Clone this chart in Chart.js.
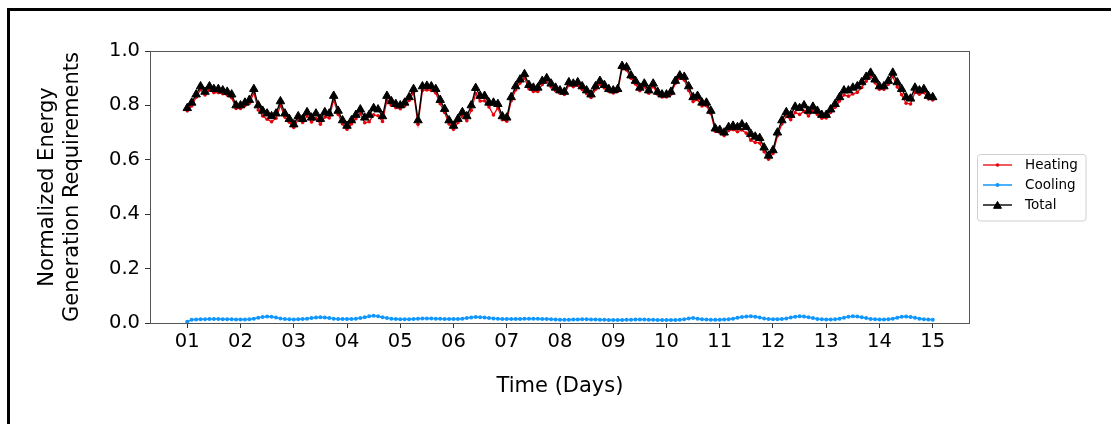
<!DOCTYPE html>
<html>
<head>
<meta charset="utf-8">
<script src="https://cdn.jsdelivr.net/npm/chart.js@4.4.1/dist/chart.umd.min.js"></script>
<style>
  html, body { margin: 0; padding: 0; background: #fff; overflow: hidden; }
  #wrap { position: relative; width: 1111px; height: 424px; }
  #frame { position: absolute; left: 7px; top: 8px; width: 1200px; height: 500px;
           border-left: 3px solid #000; border-top: 3px solid #000; pointer-events: none; }
</style>
</head>
<body>
<div id="wrap">
  <canvas id="energyChart" width="1111" height="424"></canvas>
  <div id="frame"></div>
</div>
<script>

// tick labels of the time axis (day of month)
var dayTicks = [1, 2, 3, 4, 5, 6, 7, 8, 9, 10, 11, 12, 13, 14, 15];
var dayLabels = ["01", "02", "03", "04", "05", "06", "07", "08", "09", "10", "11", "12", "13", "14", "15"];

// readings every 2 hours, day 01 00:00 to day 15 00:00
var totalValues = [
	0.79, 0.81, 0.84, 0.87, 0.85, 0.87, 0.86, 0.86, 0.855, 0.85, 0.84, 0.80,
	0.80, 0.81, 0.82, 0.86, 0.80, 0.78, 0.77, 0.76, 0.77, 0.815, 0.77, 0.75,
	0.73, 0.76, 0.75, 0.775, 0.755, 0.77, 0.75, 0.775, 0.77, 0.835, 0.78, 0.745,
	0.725, 0.745, 0.765, 0.785, 0.755, 0.765, 0.79, 0.785, 0.76, 0.835, 0.815, 0.805,
	0.80, 0.81, 0.83, 0.86, 0.745, 0.87, 0.872, 0.87, 0.86, 0.82, 0.787, 0.745,
	0.725, 0.75, 0.775, 0.76, 0.80, 0.864, 0.835, 0.835, 0.81, 0.81, 0.805, 0.76,
	0.755, 0.83, 0.87, 0.895, 0.915, 0.875, 0.865, 0.865, 0.89, 0.90, 0.88, 0.865,
	0.855, 0.85, 0.885, 0.88, 0.885, 0.87, 0.855, 0.84, 0.87, 0.89, 0.875, 0.86,
	0.855, 0.86, 0.945, 0.94, 0.91, 0.89, 0.865, 0.88, 0.855, 0.88, 0.85, 0.84,
	0.84, 0.85, 0.89, 0.91, 0.905, 0.87, 0.83, 0.835, 0.81, 0.81, 0.78, 0.715,
	0.71, 0.70, 0.72, 0.725, 0.72, 0.73, 0.72, 0.695, 0.685, 0.68, 0.645, 0.615,
	0.635, 0.70, 0.745, 0.775, 0.765, 0.795, 0.79, 0.80, 0.78, 0.795, 0.78, 0.765,
	0.765, 0.785, 0.805, 0.83, 0.855, 0.855, 0.865, 0.87, 0.885, 0.905, 0.92, 0.895,
	0.87, 0.87, 0.89, 0.92, 0.885, 0.86, 0.83, 0.825, 0.865, 0.855, 0.86, 0.835,
	0.83
];

var heatingValues = [
	0.78, 0.798, 0.83, 0.858, 0.838, 0.857, 0.847, 0.847, 0.843, 0.838, 0.828, 0.789,
	0.789, 0.799, 0.808, 0.846, 0.783, 0.761, 0.749, 0.74, 0.753, 0.8, 0.757, 0.738,
	0.719, 0.748, 0.737, 0.761, 0.739, 0.752, 0.731, 0.757, 0.754, 0.821, 0.767, 0.732,
	0.712, 0.732, 0.751, 0.769, 0.736, 0.74, 0.765, 0.762, 0.741, 0.819, 0.801, 0.792,
	0.788, 0.798, 0.818, 0.847, 0.731, 0.855, 0.857, 0.855, 0.846, 0.806, 0.774, 0.732,
	0.712, 0.737, 0.761, 0.744, 0.782, 0.844, 0.816, 0.817, 0.794, 0.765, 0.791, 0.747,
	0.742, 0.817, 0.857, 0.882, 0.901, 0.861, 0.851, 0.851, 0.877, 0.887, 0.868, 0.854,
	0.845, 0.84, 0.875, 0.869, 0.874, 0.858, 0.843, 0.829, 0.859, 0.878, 0.864, 0.851,
	0.846, 0.851, 0.936, 0.93, 0.9, 0.879, 0.854, 0.869, 0.845, 0.87, 0.841, 0.831,
	0.831, 0.841, 0.881, 0.9, 0.893, 0.855, 0.814, 0.821, 0.798, 0.799, 0.77, 0.705,
	0.7, 0.689, 0.708, 0.711, 0.703, 0.71, 0.698, 0.672, 0.664, 0.662, 0.63, 0.602,
	0.623, 0.688, 0.732, 0.76, 0.747, 0.774, 0.767, 0.778, 0.761, 0.779, 0.767, 0.753,
	0.754, 0.774, 0.793, 0.816, 0.838, 0.834, 0.842, 0.848, 0.866, 0.889, 0.907, 0.883,
	0.859, 0.859, 0.878, 0.906, 0.868, 0.839, 0.808, 0.805, 0.848, 0.841, 0.848, 0.824,
	0.82
];

var coolingValues = [
	0.005, 0.012, 0.013, 0.014, 0.014, 0.015, 0.015, 0.015, 0.014, 0.014, 0.014, 0.013,
	0.013, 0.013, 0.014, 0.016, 0.019, 0.022, 0.024, 0.023, 0.020, 0.017, 0.015, 0.014,
	0.013, 0.014, 0.015, 0.016, 0.018, 0.020, 0.021, 0.020, 0.018, 0.016, 0.015, 0.015,
	0.015, 0.015, 0.016, 0.018, 0.021, 0.025, 0.027, 0.025, 0.021, 0.018, 0.016, 0.015,
	0.014, 0.014, 0.014, 0.015, 0.016, 0.017, 0.017, 0.017, 0.016, 0.016, 0.015, 0.015,
	0.015, 0.015, 0.016, 0.018, 0.020, 0.022, 0.021, 0.020, 0.018, 0.017, 0.016, 0.015,
	0.015, 0.015, 0.015, 0.015, 0.016, 0.016, 0.016, 0.016, 0.015, 0.015, 0.014, 0.013,
	0.012, 0.012, 0.012, 0.013, 0.013, 0.014, 0.014, 0.013, 0.013, 0.012, 0.012, 0.011,
	0.011, 0.011, 0.011, 0.012, 0.012, 0.013, 0.013, 0.013, 0.012, 0.012, 0.011, 0.011,
	0.011, 0.011, 0.011, 0.012, 0.014, 0.017, 0.018, 0.016, 0.014, 0.013, 0.012, 0.012,
	0.012, 0.013, 0.014, 0.016, 0.019, 0.022, 0.024, 0.025, 0.023, 0.020, 0.017, 0.015,
	0.014, 0.014, 0.015, 0.017, 0.020, 0.023, 0.025, 0.024, 0.021, 0.018, 0.015, 0.014,
	0.013, 0.013, 0.014, 0.016, 0.019, 0.023, 0.025, 0.024, 0.021, 0.018, 0.015, 0.014,
	0.013, 0.013, 0.014, 0.016, 0.019, 0.023, 0.024, 0.022, 0.019, 0.016, 0.014, 0.013,
	0.012
];

var stepsPerDay = 12;

function toPoints(values){
	return values.map(function(v, i){ return { x: dayTicks[0] + i / stepsPerDay, y: v }; });
}

Chart.defaults.font.family = "'DejaVu Sans', sans-serif";
Chart.defaults.color = '#000';

// box round the plot area, like the axes frame
var frameBox = {
	id: 'frameBox',
	afterDatasetsDraw: function(chart){
		var a = chart.chartArea, ctx = chart.ctx;
		ctx.save();
		ctx.strokeStyle = '#555';
		ctx.lineWidth = 1;
		ctx.strokeRect(Math.round(a.left) + 0.5, Math.round(a.top) + 0.5,
			Math.round(a.right - a.left) - 1, Math.round(a.bottom - a.top));
		ctx.restore();
	}
};

// legend at the right of the plot, with a light box
var sideLegend = {
	id: 'sideLegend',
	afterDraw: function(chart){
		var ctx = chart.ctx;
		var order = [0, 1, 2];
		var bx = 977.5, by = 154.5, bw = 108.5, bh = 66.5;
		ctx.save();
		ctx.beginPath();
		ctx.roundRect(bx, by, bw, bh, 3);
		ctx.fillStyle = 'rgba(255,255,255,0.8)';
		ctx.fill();
		ctx.strokeStyle = '#d0d0d0';
		ctx.lineWidth = 1;
		ctx.stroke();
		ctx.font = "13.5px 'DejaVu Sans'";
		ctx.textBaseline = 'middle';
		order.forEach(function(idx, row){
			var ds = chart.data.datasets[idx];
			var y = 165 + row * 20;
			ctx.strokeStyle = ds.borderColor;
			ctx.lineWidth = ds.borderWidth;
			ctx.beginPath();
			ctx.moveTo(983, y);
			ctx.lineTo(1012, y);
			ctx.stroke();
			var r = idx === 2 ? 4.6 : ds.pointRadius;
			ctx.fillStyle = ds.pointBackgroundColor;
			ctx.strokeStyle = ds.pointBorderColor;
			ctx.lineWidth = ds.pointBorderWidth;
			Chart.helpers.drawPoint(ctx, {
				pointStyle: ds.pointStyle,
				radius: r,
				borderWidth: ds.pointBorderWidth,
				rotation: 0
			}, 997.5, y + (idx === 2 ? 1 : 0));
			ctx.fillStyle = '#000';
			ctx.fillText(ds.label, 1025, y);
		});
		ctx.restore();
	}
};

var chart_settings = {
	type: 'line',
	data: {
		datasets: [{
			label: 'Heating',
			data: toPoints(heatingValues),
			borderColor: '#e8000b',
			borderWidth: 1.3,
			pointStyle: 'circle',
			pointRadius: 1.8,
			pointBorderWidth: 0,
			pointBorderColor: '#e8000b',
			pointBackgroundColor: '#e8000b',
			order: 3
		}, {
			label: 'Cooling',
			data: toPoints(coolingValues),
			borderColor: '#0f97ff',
			borderWidth: 1.5,
			pointStyle: 'circle',
			pointRadius: 2,
			pointBorderWidth: 0,
			pointBorderColor: '#0f97ff',
			pointBackgroundColor: '#0f97ff',
			order: 2
		}, {
			label: 'Total',
			data: toPoints(totalValues),
			borderColor: '#000',
			borderWidth: 1.4,
			pointStyle: 'triangle',
			pointRadius: 4.9,
			pointBorderWidth: 1,
			pointBorderColor: '#000',
			pointBackgroundColor: '#000',
			order: 1
		}]
	},
	options: {
		responsive: false,
		animation: false,
		events: [],
		layout: { padding: { left: 0, top: 51, right: 141, bottom: 0 } },
		plugins: { legend: { display: false }, tooltip: { enabled: false } },
		scales: {
			x: {
				type: 'linear',
				min: 0.3,
				max: 15.7,
				afterBuildTicks: function(scale){
					scale.ticks = dayTicks.map(function(v){ return { value: v }; });
				},
				afterFit: function(scale){ scale.height = 101; },
				ticks: {
					font: { size: 19.5 },
					padding: 2,
					maxRotation: 0,
					autoSkip: false,
					callback: function(value){ return dayLabels[dayTicks.indexOf(value)]; }
				},
				grid: { drawOnChartArea: false, drawTicks: true, tickLength: 5, color: '#333' },
				border: { display: false },
				title: {
					display: true,
					text: 'Time (Days)',
					font: { size: 21, lineHeight: 1.2 },
					padding: { top: 0, bottom: 24.5 }
				}
			},
			y: {
				min: 0,
				max: 1,
				afterFit: function(scale){ scale.width = 150; },
				ticks: {
					stepSize: 0.2,
					font: { size: 19.5 },
					padding: 5,
					callback: function(value){ return value.toFixed(1); }
				},
				grid: { drawOnChartArea: false, drawTicks: true, tickLength: 5, color: '#333' },
				border: { display: false },
				title: {
					display: true,
					text: ['Normalized Energy', 'Generation Requirements'],
					font: { size: 21, lineHeight: 1.19 },
					padding: { top: 35, bottom: 0 }
				}
			}
		}
	},
	plugins: [frameBox, sideLegend]
};

var energy_chart = new Chart(document.getElementById('energyChart'), chart_settings);

</script>
</body>
</html>
